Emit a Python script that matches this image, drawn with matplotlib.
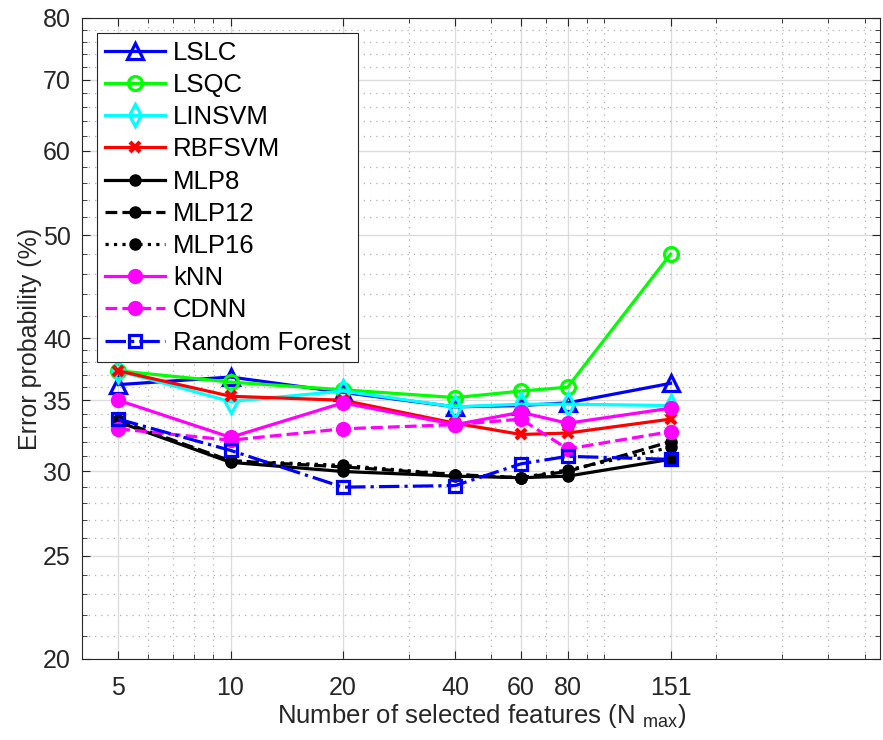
import numpy as np
import matplotlib
matplotlib.use("Agg")
import matplotlib.pyplot as plt
from matplotlib.ticker import FixedLocator, NullFormatter

plt.rcParams['font.family'] = ['Liberation Sans', 'DejaVu Sans']
plt.rcParams['mathtext.fontset'] = 'custom'
plt.rcParams['mathtext.rm'] = 'Liberation Sans'

# number of selected features
n_feat = [5, 10, 20, 40, 60, 80, 151]

# error probability (%) per classifier
lslc = [36.2, 36.8, 35.6, 34.5, 34.6, 34.8, 36.3]
lsqc = [37.3, 36.4, 35.8, 35.2, 35.7, 36.0, 48.0]
linsvm = [37.3, 34.9, 35.7, 34.5, 34.7, 34.7, 34.6]
rbfsvm = [37.3, 35.3, 35.0, 33.3, 32.5, 32.6, 33.6]
mlp8 = [33.4, 30.6, 30.0, 29.7, 29.6, 29.7, 30.8]
mlp12 = [33.5, 30.7, 30.3, 29.8, 29.6, 30.0, 32.0]
mlp16 = [33.4, 30.7, 30.4, 29.8, 29.6, 30.1, 31.6]
knn = [35.0, 32.3, 34.8, 33.2, 34.1, 33.3, 34.4]
cdnn = [32.9, 32.1, 32.9, 33.2, 33.6, 31.5, 32.7]
rforest = [33.6, 31.4, 29.0, 29.1, 30.5, 31.0, 30.8]

labels = ['LSLC', 'LSQC', 'LINSVM', 'RBFSVM', 'MLP8', 'MLP12', 'MLP16',
          'kNN', 'CDNN', 'Random Forest']
y_major = [20, 25, 30, 35, 40, 50, 60, 70, 80]

BLUE = '#0000ff'
GREEN = '#00ff00'
CYAN = '#00ffff'
RED = '#ff0000'
MAG = '#ff00ff'

fig = plt.figure(figsize=(8.83, 7.40), dpi=100)
ax = fig.add_axes([0.0929, 0.1095, 0.9037, 0.8662])

lw = 2.3
ax.plot(n_feat, lslc, color=BLUE, ls='-', lw=lw, marker='^', ms=12,
        mfc='none', mew=2.3, label=labels[0])
ax.plot(n_feat, lsqc, color=GREEN, ls='-', lw=lw, marker='o', ms=10,
        mfc='none', mew=2.3, label=labels[1])
ax.plot(n_feat, linsvm, color=CYAN, ls='-', lw=lw, marker='d', ms=11,
        mfc='none', mew=2.3, label=labels[2])
ax.plot(n_feat, rbfsvm, color=RED, ls='-', lw=lw, marker='x', ms=7,
        mew=3, label=labels[3])
ax.plot(n_feat, mlp8, color='k', ls='-', lw=lw, marker='o', ms=8,
        label=labels[4])
ax.plot(n_feat, mlp12, color='k', ls='--', lw=lw, marker='o', ms=8,
        label=labels[5])
ax.plot(n_feat, mlp16, color='k', ls=':', lw=lw, marker='o', ms=8,
        label=labels[6])
ax.plot(n_feat, knn, color=MAG, ls='-', lw=lw, marker='o', ms=10,
        label=labels[7])
ax.plot(n_feat, cdnn, color=MAG, ls='--', lw=lw, marker='o', ms=10,
        label=labels[8])
ax.plot(n_feat, rforest, color=BLUE, ls='-.', lw=lw, marker='s', ms=8,
        mfc='none', mew=2.3, label=labels[9])

ax.set_xscale('log')
ax.set_yscale('log')
ax.set_xlim(4, 550)
ax.set_ylim(20, 80)

ax.xaxis.set_major_locator(FixedLocator(n_feat))
ax.set_xticklabels([str(v) for v in n_feat])
x_minor = [6, 7, 8, 9, 30, 50, 70, 90, 100, 200, 300, 400, 500]
ax.xaxis.set_minor_locator(FixedLocator(x_minor))
ax.xaxis.set_minor_formatter(NullFormatter())

ax.yaxis.set_major_locator(FixedLocator(y_major))
ax.set_yticklabels([str(v) for v in y_major])
y_minor = []
for a, b in zip(y_major[:-1], y_major[1:]):
    step = (b - a) / 5
    y_minor += [a + step * k for k in range(1, 5)]
ax.yaxis.set_minor_locator(FixedLocator(y_minor))
ax.yaxis.set_minor_formatter(NullFormatter())

ax.grid(True, which='major', color='#dcdcdc', lw=1.0, ls='-')
ax.grid(True, which='minor', color='#b0b0b0', lw=0.9, ls=(0, (1, 4)))
ax.set_axisbelow(True)

ax.tick_params(which='both', direction='in', top=True, right=True,
               colors='#262626', labelsize=18)
ax.tick_params(which='major', length=6, width=0.8)
ax.tick_params(which='minor', length=3.5, width=0.6)
ax.tick_params(axis='x', pad=12)
ax.tick_params(axis='y', pad=8)
for s in ax.spines.values():
    s.set_color('#262626')
    s.set_linewidth(0.8)

ax.set_xlabel(r'Number of selected features (N $_{\mathregular{max}}$)',
              fontsize=18.5, color='#262626', labelpad=2)
ax.set_ylabel('Error probability (%)', fontsize=18, color='#262626',
              labelpad=1)

leg = ax.legend(loc='upper left', bbox_to_anchor=(0.0188, 0.9766),
                borderaxespad=0, fontsize=18.5, handlelength=2.35,
                labelspacing=0.32, fancybox=False, framealpha=1,
                edgecolor='#262626', borderpad=0.3, handletextpad=0.3)
leg.get_frame().set_linewidth(0.8)

fig.savefig('out.png', dpi=100)
